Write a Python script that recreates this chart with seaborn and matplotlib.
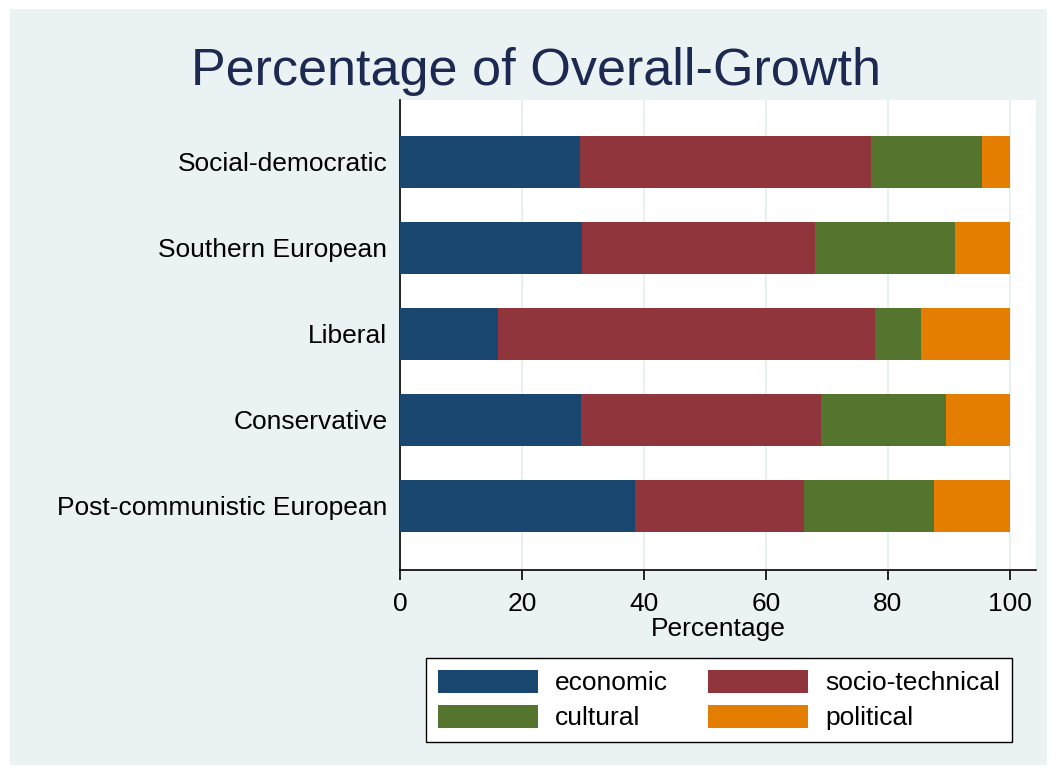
import pandas as pd
import matplotlib.pyplot as plt
import seaborn as sns
from matplotlib.patches import Rectangle, Patch

# --- data ---
regimes = ['Social-democratic', 'Southern European', 'Liberal',
           'Conservative', 'Post-communistic European']
economic = [29.5, 29.8, 16.1, 29.7, 38.6]
socio_technical = [47.8, 38.2, 61.8, 39.4, 27.6]
cultural = [18.1, 23.0, 7.5, 20.5, 21.4]
political = [4.6, 9.0, 14.6, 10.4, 12.4]

components = ['economic', 'socio-technical', 'cultural', 'political']
colors = ['#1A476F', '#90353B', '#55752F', '#E37E00']

df = pd.DataFrame({'regime': regimes,
                   'economic': economic,
                   'socio-technical': socio_technical,
                   'cultural': cultural,
                   'political': political})
cum = df[components].cumsum(axis=1)
cum['regime'] = df['regime']

sns.set_style('white')
plt.rcParams['font.family'] = ['Liberation Sans', 'DejaVu Sans']
plt.rcParams['text.color'] = 'black'
plt.rcParams['axes.labelcolor'] = 'black'
plt.rcParams['xtick.color'] = 'black'
plt.rcParams['ytick.color'] = 'black'

fig = plt.figure(figsize=(10.57, 7.74), dpi=100, facecolor='white')
bg = '#EAF2F3'
fig.patches.append(Rectangle((10 / 1057, 9 / 774), 1037 / 1057, 756 / 774,
                             transform=fig.transFigure, facecolor=bg,
                             edgecolor='none', zorder=-10))

ax = fig.add_axes([0.3784, 1 - 570 / 774, 0.6017, 470 / 774])
ax.set_facecolor('white')

# stacked bars: draw cumulative totals from the outside in
for comp, col in reversed(list(zip(components, colors))):
    sns.barplot(data=cum, x=comp, y='regime', orient='h', color=col,
                width=0.605, ax=ax, saturation=1, linewidth=0, zorder=3)

ax.set_xlim(0, 104.3)
ax.set_ylim(4.745, -0.72)
ax.set_xticks([0, 20, 40, 60, 80, 100])
ax.xaxis.grid(True, color='#E3ECEE', linewidth=1.2, zorder=0)
ax.yaxis.grid(False)
ax.set_axisbelow(True)

for s in ['top', 'right']:
    ax.spines[s].set_visible(False)
for s in ['left', 'bottom']:
    ax.spines[s].set_visible(True)
    ax.spines[s].set_color('black')
    ax.spines[s].set_linewidth(1.2)

ax.tick_params(axis='y', length=0, pad=9, labelsize=19, labelcolor='black')
ax.tick_params(axis='x', length=7.2, width=1.2, direction='out', pad=8.5,
               labelsize=19, bottom=True, color='black', labelcolor='black')
ax.set_ylabel('')
ax.set_xlabel('Percentage', fontsize=19, labelpad=1, color='black')

fig.text(0.507, 1 - 85 / 774, 'Percentage of Overall-Growth',
         fontsize=37.5, color='#1C2951', ha='center', va='baseline')

# legend filled row by row like the reference
order = [0, 2, 1, 3]
handles = [Patch(facecolor=colors[i], edgecolor='none') for i in order]
labels = [components[i] for i in order]
leg = fig.legend(handles, labels, ncol=2, loc='center',
                 bbox_to_anchor=(719 / 1057, 1 - 700 / 774),
                 fontsize=19, frameon=True, fancybox=False, framealpha=1,
                 handlelength=3.8, handleheight=1.0, handletextpad=0.65,
                 columnspacing=1.5, labelspacing=0.35, borderpad=0.45,
                 borderaxespad=0)
leg.get_frame().set_edgecolor('black')
leg.get_frame().set_linewidth(1.0)
leg.get_frame().set_facecolor('white')

fig.savefig('out.png', dpi=100, facecolor='white')
